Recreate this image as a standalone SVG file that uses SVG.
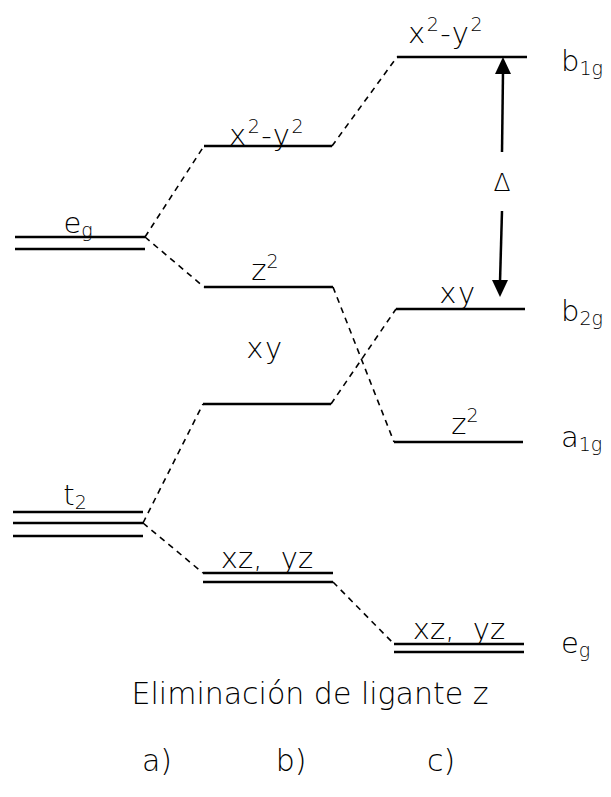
<svg xmlns="http://www.w3.org/2000/svg" width="611" height="797" viewBox="0 0 611 797">
<style>
.lvl{stroke:#000;stroke-width:2.5;fill:none}
.dash{stroke:#000;stroke-width:1.6;stroke-dasharray:6,5;fill:none}
.arr{stroke:#000;stroke-width:2.5;fill:none}
text{font-family:"DejaVu Sans",Lato,sans-serif;font-weight:200;fill:#000}
.lb{font-size:29px;text-anchor:middle}
.sp{letter-spacing:1.5px}
.rl{font-size:29px}
.big{font-size:30px;text-anchor:middle}
</style>
<g id="connectors">
<line class="dash" x1="145" y1="237" x2="204" y2="146"/>
<line class="dash" x1="145" y1="237" x2="204" y2="287"/>
<line class="dash" x1="332" y1="146" x2="397" y2="57"/>
<line class="dash" x1="333" y1="287" x2="394" y2="442"/>
<line class="dash" x1="331" y1="404" x2="396" y2="309"/>
<line class="dash" x1="143" y1="523" x2="203" y2="404"/>
<line class="dash" x1="143" y1="523" x2="203" y2="573"/>
<line class="dash" x1="333" y1="582" x2="394" y2="644"/>
</g>
<g id="delta">
<line class="arr" x1="502" y1="152" x2="503" y2="72"/>
<path d="M503,57 L495,74 L511,74 Z" fill="#000"/>
<line class="arr" x1="502" y1="211" x2="500" y2="282"/>
<path d="M500,297 L492,280 L508,280 Z" fill="#000"/>
<text class="lb" x="502" y="191" style="font-size:25px">Δ</text>
</g>
<g id="a-eg">
<line class="lvl" x1="15" y1="237" x2="145" y2="237"/>
<line class="lvl" x1="15" y1="249" x2="145" y2="249"/>
<text class="lb" x="78" y="233">e<tspan font-size="19" dy="4">g</tspan></text>
</g>
<g id="a-t2">
<line class="lvl" x1="13" y1="512" x2="143" y2="512"/>
<line class="lvl" x1="13" y1="523" x2="143" y2="523"/>
<line class="lvl" x1="13" y1="536" x2="143" y2="536"/>
<text class="lb" x="75" y="505">t<tspan font-size="19" dy="4">2</tspan></text>
</g>
<g id="b-x2y2">
<line class="lvl" x1="204" y1="146" x2="332" y2="146"/>
<text class="lb sp" x="267" y="145">x<tspan font-size="19" dy="-12">2</tspan><tspan dy="12">-y</tspan><tspan font-size="19" dy="-12">2</tspan></text>
</g>
<g id="b-z2">
<line class="lvl" x1="204" y1="287" x2="333" y2="287"/>
<text class="lb" x="265" y="280">z<tspan font-size="19" dy="-12">2</tspan></text>
</g>
<g id="b-xy">
<line class="lvl" x1="203" y1="404" x2="331" y2="404"/>
<text class="lb sp" x="265" y="358">xy</text>
</g>
<g id="b-xzyz">
<line class="lvl" x1="203" y1="573" x2="333" y2="573"/>
<line class="lvl" x1="203" y1="582" x2="333" y2="582"/>
<text class="lb" x="267" y="568">xz,&#160; yz</text>
</g>
<g id="c-b1g">
<line class="lvl" x1="397" y1="57" x2="527" y2="57"/>
<text class="lb sp" x="446" y="43">x<tspan font-size="19" dy="-12">2</tspan><tspan dy="12">-y</tspan><tspan font-size="19" dy="-12">2</tspan></text>
<text class="rl" x="561" y="71">b<tspan font-size="19" dy="4">1g</tspan></text>
</g>
<g id="c-b2g">
<line class="lvl" x1="396" y1="309" x2="525" y2="309"/>
<text class="lb sp" x="458" y="303">xy</text>
<text class="rl" x="561" y="321">b<tspan font-size="19" dy="4">2g</tspan></text>
</g>
<g id="c-a1g">
<line class="lvl" x1="394" y1="442" x2="523" y2="442"/>
<text class="lb" x="465" y="434">z<tspan font-size="19" dy="-12">2</tspan></text>
<text class="rl" x="561" y="447">a<tspan font-size="19" dy="4">1g</tspan></text>
</g>
<g id="c-eg">
<line class="lvl" x1="394" y1="644" x2="524" y2="644"/>
<line class="lvl" x1="394" y1="652" x2="524" y2="652"/>
<text class="lb" x="459" y="639">xz,&#160; yz</text>
<text class="rl" x="561" y="653">e<tspan font-size="19" dy="4">g</tspan></text>
</g>
<g id="captions">
<text class="big" x="310" y="704">Eliminación de ligante z</text>
<text class="big" x="157" y="771">a)</text>
<text class="big" x="291" y="771">b)</text>
<text class="big" x="441" y="771">c)</text>
</g>
</svg>
